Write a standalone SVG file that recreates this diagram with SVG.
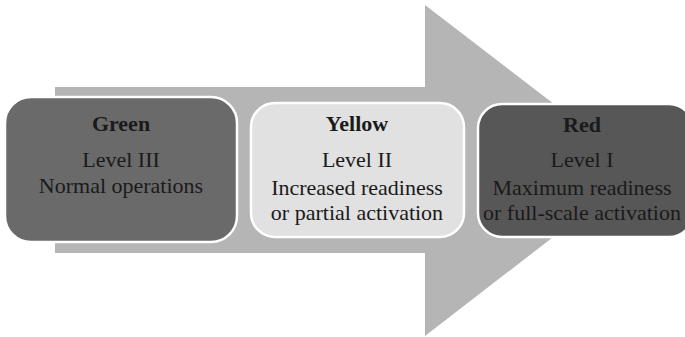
<svg xmlns="http://www.w3.org/2000/svg" width="685" height="337" viewBox="0 0 685 337">
  <style>
    .box { stroke: #ffffff; stroke-width: 2.5; }
    .t { font-family: "Liberation Serif", "Times New Roman", serif; font-size: 22px; text-anchor: middle; fill: #1a1a1a; }
    .h { font-weight: bold; }
  </style>
  <rect width="685" height="337" fill="#ffffff"/>
  <!-- progression arrow behind the levels -->
  <g id="connectors">
    <polygon points="55,87 425,87 425,5 640,170 425,336 425,253 55,253" fill="#b5b5b5"/>
  </g>
  <g id="green">
    <rect class="box" x="5" y="97" width="232" height="145" rx="26" fill="#6a6a6a"/>
    <text class="t h" x="121" y="131">Green</text>
    <text class="t" x="121" y="167">Level III</text>
    <text class="t" x="121" y="193">Normal operations</text>
  </g>
  <g id="yellow">
    <rect class="box" x="251" y="103" width="213" height="134" rx="24" fill="#e1e1e1"/>
    <text class="t h" x="357" y="131">Yellow</text>
    <text class="t" x="357" y="167">Level II</text>
    <text class="t" x="357" y="195">Increased readiness</text>
    <text class="t" x="357" y="220">or partial activation</text>
  </g>
  <g id="red">
    <rect class="box" x="478" y="104" width="215" height="133" rx="24" fill="#575757"/>
    <text class="t h" x="582" y="132">Red</text>
    <text class="t" x="582" y="167">Level I</text>
    <text class="t" x="582" y="195">Maximum readiness</text>
    <text class="t" x="582" y="220">or full-scale activation</text>
  </g>
</svg>
